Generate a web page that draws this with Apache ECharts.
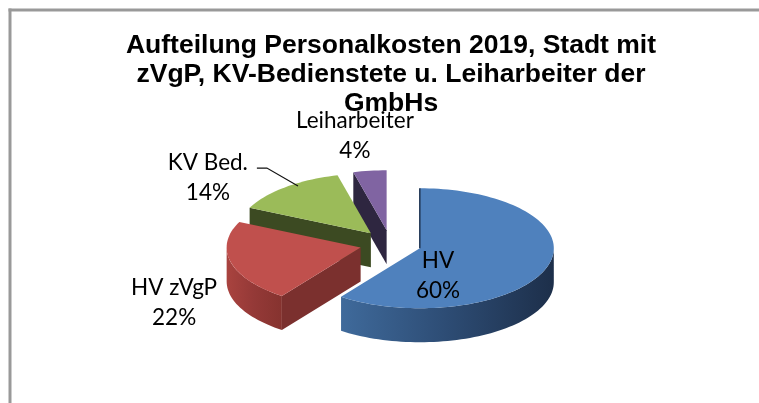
<!DOCTYPE html>
<html>
<head>
<meta charset="utf-8">
<title>Aufteilung Personalkosten 2019</title>
<script src="https://cdn.jsdelivr.net/npm/echarts@6.0.0/dist/echarts.min.js"></script>
<style>
  html, body { margin: 0; padding: 0; background: #fff; }
  #chart { width: 759px; height: 403px; }
</style>
</head>
<body>
<div id="chart"></div>
<script>
const categories = ['HV', 'HV zVgP', 'KV Bed.', 'Leiharbeiter']
const shares = [60, 22, 14, 4]

const topColors = ['#4f81bd', '#c0504d', '#9bbb59', '#8064a2']
const sideColors = [
  ['#3f6a9b', '#2d4c74', '#1d2f4a'],
  ['#a9433f', '#943937', '#86332f'],
  ['#45552a', '#3d4b23', '#36431f'],
  ['#352b4a', '#2f2641', '#2a2239']
]
const wallColors = ['#1f3552', '#7b302e', '#3c4a22', '#2e2640']

// 3D-Torte nachgebaut: Ellipse + Tiefe, Start oben, im Uhrzeigersinn wie Excel
const GEO = { cx: 390.5, cy: 244, rx: 134, ry: 60, depth: 34, explode: 0.23 }
// Label-Lage relativ zur Tortenmitte (Winkel, Radius-Faktor)
const LABELS = [
  { angle: 146.4, r: 0.64 },
  { angle: 238.7, r: 1.89 },
  { angle: 309.1, r: 1.756, leader: { dx: 49, dy: -9.5, knee: 10, angle: 325.5, r: 0.96 } },
  { angle: 351.6, r: 1.82 }
]

const total = shares.reduce((s, v) => s + v, 0)
const startAngles = []
shares.reduce((acc, v) => { startAngles.push(acc / total * 360); return acc + v }, 0)

const rad = d => d * Math.PI / 180

function pt(deg, r, off) {
  const a = rad(deg)
  return [GEO.cx + off[0] + GEO.rx * r * Math.sin(a), GEO.cy + off[1] - GEO.ry * r * Math.cos(a)]
}

function arc(a0, a1, off, dy) {
  const pts = []
  const n = Math.max(2, Math.ceil((a1 - a0) / 2))
  for (let k = 0; k <= n; k++) {
    const p = pt(a0 + (a1 - a0) * k / n, 1, off)
    pts.push([p[0], p[1] + dy])
  }
  return pts
}

// vorne liegende Stücke später zeichnen
const order = shares.map((v, i) => {
  const mid = startAngles[i] + v / total * 180
  return { i, front: -Math.cos(rad(mid)) }
}).sort((a, b) => a.front - b.front)
const rank = []
order.forEach((o, k) => { rank[o.i] = k })

function renderItem(params, api) {
  const i = params.dataIndex
  const v = api.value(0)
  const a0 = startAngles[i]
  const a1 = a0 + v / total * 360
  const mid = (a0 + a1) / 2
  const off = [GEO.rx * GEO.explode * Math.sin(rad(mid)), -GEO.ry * GEO.explode * Math.cos(rad(mid))]
  const apex = [GEO.cx + off[0], GEO.cy + off[1]]
  const z = rank[i] * 10
  const children = []

  // Außenwand (nur der zum Betrachter zeigende Teil)
  const s = Math.max(a0, 90), e = Math.min(a1, 270)
  if (e > s) {
    const topArc = arc(s, e, off, 0)
    const botArc = arc(s, e, off, GEO.depth).reverse()
    children.push({
      type: 'polygon',
      z2: z + 1,
      shape: { points: topArc.concat(botArc) },
      style: {
        fill: new echarts.graphic.LinearGradient(0, 0, 1, 0, [
          { offset: 0, color: sideColors[i][0] },
          { offset: 0.5, color: sideColors[i][1] },
          { offset: 1, color: sideColors[i][2] }
        ])
      }
    })
  }

  // Schnittfläche am Startwinkel
  if (Math.sin(rad(a0)) < -0.01) {
    const rim = pt(a0, 1, off)
    children.push({
      type: 'polygon',
      z2: z + 2,
      shape: { points: [apex, rim, [rim[0], rim[1] + GEO.depth], [apex[0], apex[1] + GEO.depth]] },
      style: { fill: wallColors[i] }
    })
  }

  // Oberseite
  children.push({
    type: 'polygon',
    z2: z + 3,
    shape: { points: [apex].concat(arc(a0, a1, off, 0)) },
    style: { fill: topColors[i] }
  })

  // Kante hinten oben (Start bei 12 Uhr)
  if (Math.abs(Math.sin(rad(a0))) < 0.01) {
    const rim = pt(a0, 1, off)
    children.push({
      type: 'line',
      z2: z + 4,
      shape: { x1: apex[0], y1: apex[1], x2: rim[0], y2: rim[1] },
      style: { stroke: wallColors[i], lineWidth: 1.5 }
    })
  }

  // Beschriftung
  const lay = LABELS[i]
  const lp = pt(lay.angle, lay.r, [0, 0])
  children.push({
    type: 'text',
    z2: 1000,
    style: {
      text: categories[i] + '\n' + Math.round(v / total * 100) + '%',
      x: lp[0],
      y: lp[1],
      align: 'center',
      verticalAlign: 'middle',
      fontFamily: 'Lato',
      fontSize: 22.5,
      lineHeight: 30,
      fill: '#000'
    }
  })
  if (lay.leader) {
    const L = lay.leader
    const start = [lp[0] + L.dx, lp[1] + L.dy]
    const end = pt(L.angle, L.r, off)
    children.push({
      type: 'polyline',
      z2: 999,
      shape: { points: [start, [start[0] + L.knee, start[1]], end] },
      style: { stroke: '#111', lineWidth: 1.2, fill: null }
    })
  }

  return { type: 'group', children }
}

const chart = echarts.init(document.getElementById('chart'))
chart.setOption({
  animation: false,
  backgroundColor: '#fff',
  title: {
    text: 'Aufteilung Personalkosten 2019, Stadt mit\nzVgP, KV-Bedienstete u. Leiharbeiter der\nGmbHs',
    left: 391,
    top: 31,
    textAlign: 'center',
    padding: 0,
    textStyle: {
      fontFamily: 'Liberation Sans',
      fontWeight: 'bold',
      fontSize: 26.5,
      lineHeight: 29,
      color: '#000'
    }
  },
  graphic: [
    { type: 'line', shape: { x1: 8.5, y1: 10, x2: 759, y2: 10 }, style: { stroke: '#999', lineWidth: 3 } },
    { type: 'line', shape: { x1: 10, y1: 8.5, x2: 10, y2: 403 }, style: { stroke: '#999', lineWidth: 3 } }
  ],
  series: [{
    type: 'custom',
    coordinateSystem: 'none',
    data: shares.map(v => [v]),
    renderItem
  }]
})
</script>
</body>
</html>
